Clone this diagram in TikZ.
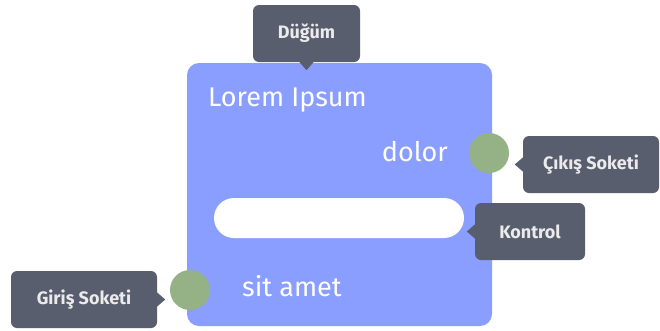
\documentclass[tikz,border=0pt]{standalone}
\usepackage{fontspec}
\setmainfont{Fira Sans}
\definecolor{nodeblue}{RGB}{138,158,255}
\definecolor{sockgreen}{RGB}{149,178,134}
\definecolor{tipgray}{RGB}{89,94,110}
\definecolor{tiptext}{RGB}{235,235,235}
\begin{document}
\begin{tikzpicture}[x=1pt,y=-1pt,
  nodebox/.style={fill=nodeblue, rounded corners=12pt, inner sep=0pt, minimum width=305pt, minimum height=263pt},
  label text/.style={text=white, font=\fontsize{27}{32}\selectfont, inner sep=0pt},
  socket/.style={circle, fill=sockgreen, minimum size=40pt, inner sep=0pt},
  control/.style={fill=white, rounded corners=20pt, minimum width=250pt, minimum height=40pt, inner sep=0pt},
  tip/.style={fill=tipgray, rounded corners=6pt, minimum height=57pt, inner sep=0pt, text=tiptext, font=\bfseries\fontsize{18}{22}\selectfont},
  pointer/.style={fill=tipgray}
]
\useasboundingbox (0,0) rectangle (660,330);
\node[nodebox] (box) at (339.5,194.5) {};
\node[label text, anchor=base west] (title) at (208,106) {Lorem Ipsum};
\node[label text, anchor=base east] (out) at (448,161) {dolor};
\node[label text, anchor=base west] (in) at (242,296) {sit amet};
\node[control] (ctl) at (339,218) {};
\node[socket] (osock) at (489,153) {};
\node[socket] (isock) at (190,290) {};
% tooltips
\node[tip, minimum width=107pt] (tnode) at (306.5,33.5) {Düğüm};
\fill[pointer] ([xshift=-7pt]tnode.south) -- ([yshift=-8pt]tnode.south) -- ([xshift=7pt]tnode.south) -- cycle;
\node[tip, minimum width=136pt] (tout) at (591,164.5) {Çıkış Soketi};
\fill[pointer] ([yshift=7pt]tout.west) -- ([xshift=-8pt]tout.west) -- ([yshift=-7pt]tout.west) -- cycle;
\node[tip, minimum width=110pt] (tctl) at (530,231.5) {Kontrol};
\fill[pointer] ([yshift=7pt]tctl.west) -- ([xshift=-8pt]tctl.west) -- ([yshift=-7pt]tctl.west) -- cycle;
\node[tip, minimum width=146pt] (tin) at (84,299.5) {Giriş Soketi};
\fill[pointer] ([yshift=7pt]tin.east) -- ([xshift=8pt]tin.east) -- ([yshift=-7pt]tin.east) -- cycle;
\end{tikzpicture}
\end{document}
